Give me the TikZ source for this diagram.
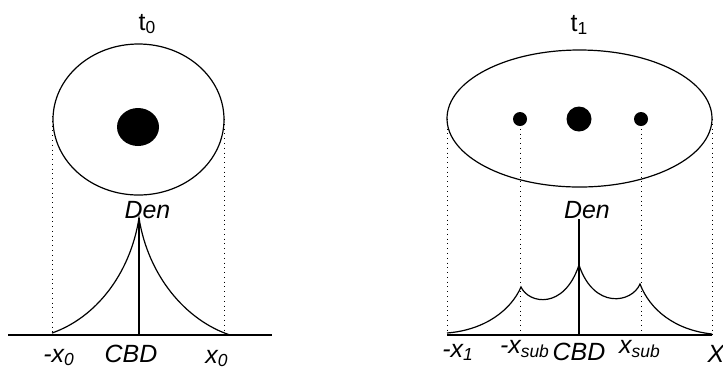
\documentclass[tikz,border=0pt]{standalone}
\usepackage{fontspec}
\setmainfont{Liberation Sans}

\begin{document}
\begin{tikzpicture}[x=0.5bp, y=-0.5bp, line width=0.6bp,
    every node/.style={font=\fontsize{12.5}{14}\selectfont\itshape, inner sep=0pt, anchor=base},
    tiempo/.style={font=\fontsize{12.5}{14}\selectfont, anchor=base west},
    guia/.style={dotted, line width=0.4bp},
    eje/.style={line width=0.9bp}]
  \useasboundingbox (0,0) rectangle (723,368);

  % Ciudad en t0
  \node[tiempo] (t0) at (138,30) {t\textsubscript{0}};
  \path (138.5,119.5) coordinate (C0);
  \draw (C0) ellipse [x radius=85.5, y radius=75.5];
  \fill (138,127) ellipse [x radius=21, y radius=19];

  % Puntos de la curva t0
  \path (52,116)  coordinate (L0top) (52,335)  coordinate (L0bot);
  \path (224,119) coordinate (R0top) (224,335) coordinate (R0bot);
  \path (52,333)  coordinate (L0)    (230,335) coordinate (R0);
  \path (139,218) coordinate (P0)    (139,335) coordinate (B0);

  % Eje y guias t0
  \draw[eje] (8,335) -- (272,335);
  \draw[guia] (L0top) -- (L0bot);
  \draw[guia] (R0top) -- (R0bot);
  \draw (P0) -- (B0);
  \draw (L0) .. controls (95,318) and (130,275) .. (P0)
             .. controls (148,275) and (185,320) .. (R0);

  % Etiquetas t0
  \node (den0) at (147.5,218) {Den};
  \node (mx0)  at (59,362)    {-x\textsubscript{0}};
  \node (cbd0) at (131,362)   {CBD};
  \node (x0)   at (217,363)   {x\textsubscript{0}};

  % Ciudad en t1
  \node[tiempo] (t1) at (570,31) {t\textsubscript{1}};
  \path (579.5,118.5) coordinate (C1);
  \draw (C1) ellipse [x radius=132.5, y radius=68.5];
  \fill (579,119) circle [radius=12.5];
  \fill (520,119) circle [radius=7];
  \fill (641,119) circle [radius=7];

  % Puntos de la curva t1
  \path (447,119) coordinate (L1top) (447,335) coordinate (L1bot);
  \path (712,119) coordinate (R1top) (712,335) coordinate (R1bot);
  \path (520,124) coordinate (S1top) (520,335) coordinate (S1bot);
  \path (641,124) coordinate (T1top) (641,335) coordinate (T1bot);
  \path (447,333) coordinate (L1)    (712,334) coordinate (R1);
  \path (521,287) coordinate (S1)    (640,284) coordinate (T1);
  \path (579,265) coordinate (P1)    (579,219) coordinate (D1);
  \path (579,335) coordinate (B1);

  % Eje y guias t1
  \draw[eje] (447,335) -- (712,335);
  \draw[guia] (L1top) -- (L1bot);
  \draw[guia] (R1top) -- (R1bot);
  \draw[guia] (S1top) -- (S1bot);
  \draw[guia] (T1top) -- (T1bot);
  \draw (D1) -- (B1);
  \draw (L1) .. controls (485,330) and (511,310) .. (S1)
             .. controls (529,304) and (564,310) .. (P1)
             .. controls (594,310) and (632,303) .. (T1)
             .. controls (650,310) and (675,330) .. (R1);

  % Etiquetas t1
  \node (den1)  at (587,218) {Den};
  \node (mx1)   at (458,357) {-x\textsubscript{1}};
  \node (mxsub) at (525,353) {-x\textsubscript{sub}};
  \node (cbd1)  at (579,360) {CBD};
  \node (xsub)  at (640,353) {x\textsubscript{sub}};
  \node[anchor=base west] (X1) at (707,362) {X};
\end{tikzpicture}
\end{document}
